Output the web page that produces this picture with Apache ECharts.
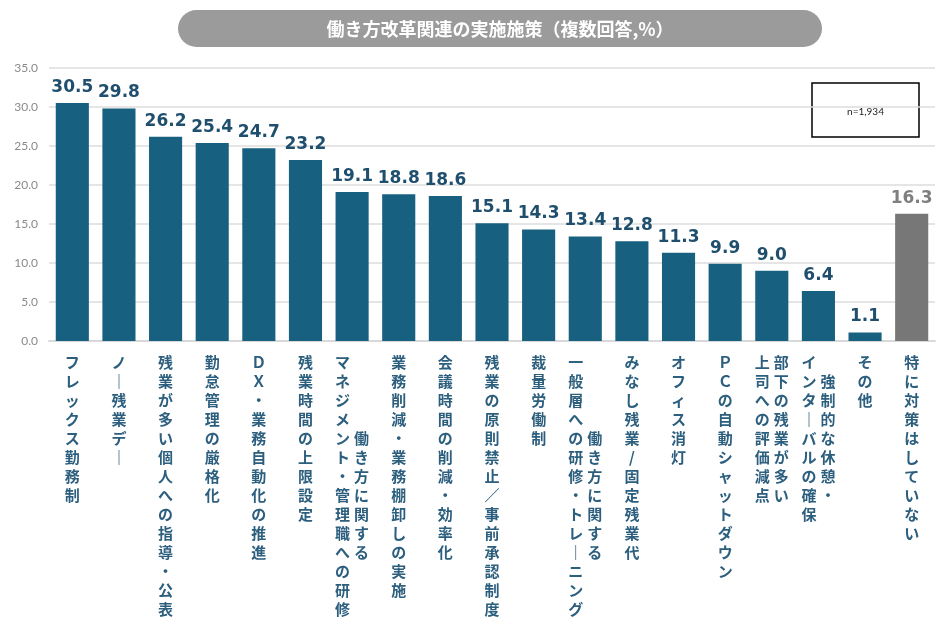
<!DOCTYPE html>
<html>
<head>
<meta charset="utf-8" />
<script src="https://cdn.jsdelivr.net/npm/echarts@6/dist/echarts.min.js"></script>
<title>働き方改革関連の実施施策</title>
<style>
  html, body { margin: 0; padding: 0; background: #fff; }
</style>
</head>
<body>
<div id="main" style="width: 950px;height:630px;"></div>
<script type="text/javascript">
// 項目名（\n で区切った場合、1行目が右の列になる）
var categories = [
  'フレックス勤務制',
  'ノー残業デー',
  '残業が多い個人への指導・公表',
  '勤怠管理の厳格化',
  'ＤＸ・業務自動化の推進',
  '残業時間の上限設定',
  '働き方に関する\nマネジメント・管理職への研修',
  '業務削減・業務棚卸しの実施',
  '会議時間の削減・効率化',
  '残業の原則禁止／事前承認制度',
  '裁量労働制',
  '働き方に関する\n一般層への研修・トレーニング',
  'みなし残業/固定残業代',
  'オフィス消灯',
  'ＰＣの自動シャットダウン',
  '部下の残業が多い\n上司への評価減点',
  '強制的な休憩・\nインターバルの確保',
  'その他',
  '特に対策はしていない'
];
var values = [30.5, 29.8, 26.2, 25.4, 24.7, 23.2, 19.1, 18.8, 18.6, 15.1, 14.3, 13.4, 12.8, 11.3, 9.9, 9.0, 6.4, 1.1, 16.3];
var yTicks = [0, 5, 10, 15, 20, 25, 30, 35];

var BLUE = '#18607f';
var GREY = '#777777';
var JP = '"Noto Sans CJK JP", sans-serif';

// 縦書き用の置き換え（長音は縦線に）
var VERT = { 'ー': '｜' };

// 縦書きラベル：列ごとに中央揃えし、右の列から並べる
function tate(name) {
  var cols = name.split('\n').map(function (s) {
    return Array.from(s).map(function (ch) { return VERT[ch] || ch; });
  });
  var n = Math.max.apply(null, cols.map(function (c) { return c.length; }));
  var padded = cols.map(function (c) {
    var top = Math.round((n - c.length) / 2);
    var out = [];
    for (var i = 0; i < n; i++) {
      var ch = c[i - top];
      out.push(ch !== undefined ? ch : '　');
    }
    return out;
  });
  padded.reverse();
  var rows = [];
  for (var i = 0; i < n; i++) {
    rows.push(padded.map(function (c) { return '{c|' + c[i] + '}'; }).join(''));
  }
  return rows.join('\n');
}

var barData = values.map(function (v, i) {
  if (i === values.length - 1) {
    return { value: v, itemStyle: { color: GREY }, label: { color: '#7f7f7f' } };
  }
  return v;
});

var myChart = echarts.init(document.getElementById('main'));
var option = {
  backgroundColor: '#fff',
  animation: false,
  grid: { left: 49, right: 15, top: 68, bottom: 289 },
  xAxis: {
    type: 'category',
    data: categories,
    axisLine: { show: true, lineStyle: { color: '#d9d9d9', width: 2 } },
    axisTick: { show: false },
    axisLabel: {
      interval: 0,
      margin: 12,
      formatter: tate,
      rich: {
        c: {
          width: 19, height: 19, lineHeight: 19, align: 'center',
          fontSize: 15, fontWeight: 'bold', color: '#2c5e7e', fontFamily: JP
        }
      }
    }
  },
  yAxis: {
    type: 'value',
    min: yTicks[0],
    max: yTicks[yTicks.length - 1],
    interval: 5,
    axisLine: { show: false },
    axisTick: { show: false },
    splitLine: { lineStyle: { color: '#dcdcdc', width: 1.5 } },
    axisLabel: {
      margin: 11,
      color: '#8a8a8a',
      fontSize: 12,
      fontFamily: 'Lato, sans-serif',
      formatter: function (v) { return v.toFixed(1); }
    }
  },
  series: [{
    type: 'bar',
    data: barData,
    barCategoryGap: '29%',
    itemStyle: { color: BLUE },
    label: {
      show: true,
      position: 'top',
      distance: 7,
      color: '#1f4f6d',
      fontSize: 17,
      fontWeight: 'bold',
      fontFamily: '"DejaVu Sans", sans-serif',
      formatter: function (p) { return p.value.toFixed(1); }
    }
  }],
  graphic: [
    {
      type: 'rect',
      shape: { x: 178, y: 10, width: 644, height: 37, r: 18.5 },
      style: { fill: '#9b9b9b' }
    },
    {
      type: 'text',
      x: 500, y: 29,
      style: {
        text: '働き方改革関連の実施施策（複数回答,%）',
        fill: '#fff', fontSize: 18, fontWeight: 'bold', fontFamily: JP,
        textAlign: 'center', textVerticalAlign: 'middle'
      }
    },
    {
      type: 'rect',
      shape: { x: 812, y: 83, width: 107, height: 54 },
      style: { fill: '#fff', stroke: '#000', lineWidth: 1.5 }
    },
    {
      type: 'text',
      x: 865.5, y: 112,
      style: {
        text: 'n=1,934',
        fill: '#222', fontSize: 10, fontFamily: 'Lato, sans-serif',
        textAlign: 'center', textVerticalAlign: 'middle'
      }
    }
  ]
};
myChart.setOption(option);
</script>
</body>
</html>
